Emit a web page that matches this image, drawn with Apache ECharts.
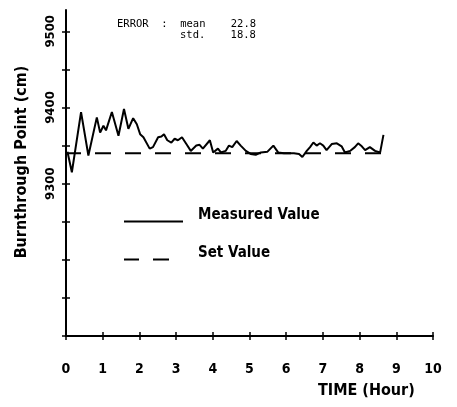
<!DOCTYPE html>
<html>
<head>
<meta charset="utf-8">
<script src="https://cdn.jsdelivr.net/npm/echarts@6/dist/echarts.min.js"></script>
<style>
html, body { margin: 0; padding: 0; background: #fff; }
#chart { width: 457px; height: 407px; }
</style>
</head>
<body>
<div id="chart"></div>
<script>
// time (hour) and measured burnthrough point (cm)
var hours = [0.04, 0.16, 0.41, 0.61, 0.84, 0.93, 1.02, 1.09, 1.25, 1.43,
  1.58, 1.70, 1.83, 1.93, 2.02, 2.11, 2.28, 2.37, 2.51, 2.60,
  2.67, 2.76, 2.87, 2.96, 3.05, 3.16, 3.28, 3.40, 3.55, 3.64,
  3.73, 3.92, 4.01, 4.14, 4.22, 4.35, 4.44, 4.53, 4.65, 4.76,
  4.90, 5.03, 5.17, 5.31, 5.49, 5.65, 5.78, 5.94, 6.21, 6.35,
  6.44, 6.56, 6.65, 6.74, 6.83, 6.92, 7.01, 7.10, 7.24, 7.38,
  7.51, 7.60, 7.74, 7.87, 7.96, 8.06, 8.15, 8.28, 8.42, 8.56, 8.65];
var measured = [9342, 9315, 9394, 9337, 9387, 9367, 9376, 9370, 9394, 9363,
  9398, 9372, 9386, 9378, 9365, 9361, 9346, 9348, 9361, 9362,
  9365, 9357, 9354, 9359, 9357, 9361, 9352, 9343, 9350, 9351,
  9346, 9357, 9341, 9346, 9341, 9343, 9350, 9348, 9356, 9350,
  9343, 9339, 9338, 9341, 9342, 9350, 9341, 9340, 9340, 9339,
  9335, 9343, 9348, 9354, 9350, 9353, 9350, 9344, 9352, 9353,
  9349, 9341, 9343, 9348, 9353, 9349, 9344, 9348, 9343, 9341, 9364];
var setValue = 9340;
var setHours = [0, 8.65];
var yTicks = [9100, 9150, 9200, 9250, 9300, 9350, 9400, 9450, 9500];
var yLabels = [9300, 9400, 9500];

var font = "'DejaVu Sans Condensed', 'DejaVu Sans', sans-serif";
var mono = "'DejaVu Sans Mono', 'Liberation Mono', monospace";

var chart = echarts.init(document.getElementById("chart"));

function xAxisOf(inside) {
  return {
    type: "value",
    position: "bottom",
    min: 0,
    max: 10,
    interval: 1,
    splitLine: { show: false },
    axisLine: { show: !inside, lineStyle: { color: "#000", width: 2 } },
    axisTick: { show: true, inside: inside, length: 4, lineStyle: { color: "#000", width: 1.5 } },
    axisLabel: {
      show: !inside,
      margin: 26,
      color: "#000",
      fontFamily: font,
      fontWeight: "bold",
      fontSize: 14
    }
  };
}

function yAxisOf(inside) {
  return {
    type: "value",
    position: "left",
    min: 9100,
    max: 9528,
    splitLine: { show: false },
    axisLine: { show: !inside, lineStyle: { color: "#000", width: 2 } },
    axisTick: { show: true, inside: inside, length: 4, customValues: yTicks, lineStyle: { color: "#000", width: 1.5 } },
    axisLabel: {
      show: !inside,
      customValues: yLabels,
      formatter: function (v) { return String(v); },
      rotate: 90,
      margin: 9,
      color: "#000",
      fontFamily: font,
      fontWeight: "bold",
      fontSize: 13
    },
    name: inside ? "" : "Burnthrough Point (cm)",
    nameLocation: "middle",
    nameGap: 36,
    nameTextStyle: {
      color: "#000",
      fontFamily: font,
      fontWeight: "bold",
      fontSize: 16,
      padding: [0, 0, 0, 22]
    }
  };
}

chart.setOption({
  animation: false,
  backgroundColor: "#fff",
  grid: { left: 66, right: 24, top: 10, bottom: 71, containLabel: false },
  xAxis: [xAxisOf(false), xAxisOf(true)],
  yAxis: [yAxisOf(false), yAxisOf(true)],
  legend: {
    orient: "vertical",
    left: 123,
    top: 208,
    padding: 0,
    itemWidth: 59,
    itemHeight: 14,
    itemGap: 19,
    itemStyle: { opacity: 0 },
    formatter: "{t|{name}}",
    textStyle: {
      color: "#000",
      fontFamily: font,
      fontWeight: "bold",
      fontSize: 15,
      rich: {
        t: {
          color: "#000",
          fontFamily: font,
          fontWeight: "bold",
          fontSize: 15,
          padding: [0, 0, 12, 10]
        }
      }
    },
    data: ["Measured Value", "Set Value"]
  },
  graphic: [
    {
      type: "text", left: 117, top: 19,
      style: { text: "ERROR  :  mean    22.8", fill: "#000", font: "10.5px " + mono }
    },
    {
      type: "text", left: 180, top: 30,
      style: { text: "std.    18.8", fill: "#000", font: "10.5px " + mono }
    },
    {
      type: "text", left: 318, top: 383,
      style: { text: "TIME (Hour)", fill: "#000", font: "bold 16px " + font }
    }
  ],
  series: [
    {
      name: "Measured Value",
      type: "line",
      symbol: "none",
      data: hours.map(function (h, i) { return [h, measured[i]]; }),
      lineStyle: { color: "#000", width: 2 },
      itemStyle: { color: "#000" }
    },
    {
      name: "Set Value",
      type: "line",
      symbol: "none",
      data: setHours.map(function (h) { return [h, setValue]; }),
      lineStyle: { color: "#000", width: 2, type: [16, 14], dashOffset: 1 },
      itemStyle: { color: "#000" }
    }
  ]
});
</script>
</body>
</html>
